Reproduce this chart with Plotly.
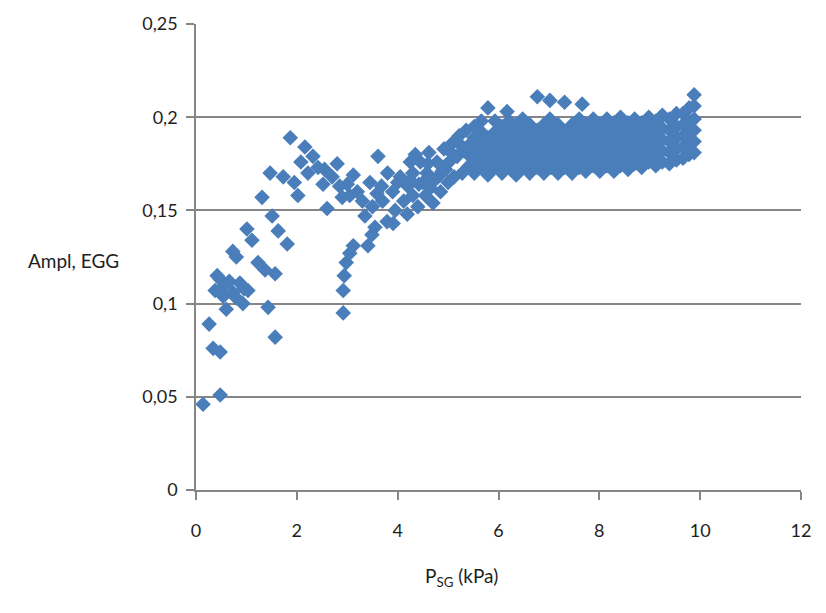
import plotly.graph_objects as go

# ---- data ----
low_x = [0.14, 0.48, 0.26, 0.34, 0.48, 0.38, 0.42, 0.48, 0.54, 0.57, 0.60, 0.66, 0.73, 0.80,
         0.87, 0.93, 0.95, 1.03, 0.73, 0.80, 1.01, 1.11, 1.23, 1.37, 1.57, 1.43, 1.57, 1.31,
         1.51, 1.63, 1.81, 1.47, 1.73, 1.87, 2.02, 1.95]
low_y = [0.046, 0.051, 0.089, 0.076, 0.074, 0.107, 0.115, 0.113, 0.104, 0.110, 0.097, 0.112,
         0.106, 0.103, 0.111, 0.100, 0.108, 0.107, 0.128, 0.125, 0.140, 0.134, 0.122, 0.118,
         0.116, 0.098, 0.082, 0.157, 0.147, 0.139, 0.132, 0.170, 0.168, 0.189, 0.158, 0.165]

mid_x = [2.16, 2.32, 2.42, 2.22, 2.52, 2.60, 2.80, 2.70, 3.00, 3.12, 2.90, 3.30, 3.20, 3.61,
         3.59, 3.45, 3.80, 3.79, 4.00, 3.90, 3.70, 2.92, 2.92, 2.94, 2.98, 3.05, 3.12, 3.35,
         3.41, 3.49, 3.55, 3.91, 4.19, 4.25, 2.08, 2.55, 2.85, 3.05, 3.50, 3.68, 3.95]
mid_y = [0.184, 0.179, 0.173, 0.170, 0.164, 0.151, 0.175, 0.168, 0.164, 0.169, 0.157, 0.155,
         0.160, 0.179, 0.159, 0.165, 0.170, 0.144, 0.165, 0.160, 0.155, 0.095, 0.107, 0.115,
         0.122, 0.127, 0.131, 0.147, 0.131, 0.137, 0.141, 0.143, 0.148, 0.176, 0.176, 0.172,
         0.163, 0.158, 0.152, 0.163, 0.150]

rise_x = [4.30, 4.30, 4.40, 4.42, 4.45, 4.55, 4.58, 4.62, 4.70, 4.72, 4.78, 4.85, 4.88, 4.92,
          5.00, 5.02, 5.08, 5.12, 5.18, 5.22, 5.28, 5.32, 5.36, 5.42, 5.45, 4.20, 4.12, 4.05,
          4.35, 4.50, 4.65, 4.80, 4.95, 5.10, 5.25, 5.40, 4.25, 4.60]
rise_y = [0.158, 0.170, 0.152, 0.164, 0.176, 0.158, 0.170, 0.181, 0.154, 0.166, 0.176, 0.160,
          0.171, 0.183, 0.165, 0.176, 0.186, 0.168, 0.179, 0.190, 0.170, 0.182, 0.193, 0.174,
          0.186, 0.163, 0.155, 0.168, 0.180, 0.165, 0.162, 0.168, 0.172, 0.180, 0.185, 0.180,
          0.166, 0.175]

band_x = [5.52, 5.66, 5.79, 5.93, 6.07, 6.17, 6.21, 6.35, 6.48, 6.62, 6.77, 6.90, 7.02, 7.04,
          7.18, 7.31, 7.46, 7.60, 7.66, 7.73, 7.88, 8.01, 8.15, 8.29, 8.42, 8.57, 8.70, 8.84,
          8.98, 9.12, 9.25, 9.39, 9.53, 9.66, 9.78, 9.88]
band_y = [
    [0.170, 0.177, 0.183, 0.189, 0.195],
    [0.173, 0.180, 0.186, 0.192, 0.198],
    [0.169, 0.176, 0.183, 0.189, 0.205],
    [0.173, 0.179, 0.186, 0.192, 0.198],
    [0.170, 0.176, 0.183, 0.189, 0.195],
    [0.203],
    [0.173, 0.180, 0.186, 0.192, 0.198],
    [0.169, 0.176, 0.183, 0.189, 0.196],
    [0.173, 0.179, 0.186, 0.192, 0.199],
    [0.170, 0.177, 0.183, 0.189, 0.196],
    [0.173, 0.180, 0.186, 0.193, 0.211],
    [0.170, 0.176, 0.183, 0.190, 0.196],
    [0.209, 0.199],
    [0.173, 0.179, 0.186, 0.192],
    [0.170, 0.177, 0.183, 0.189, 0.196],
    [0.173, 0.180, 0.186, 0.192, 0.208],
    [0.170, 0.176, 0.183, 0.190, 0.196],
    [0.173, 0.180, 0.186, 0.193, 0.199],
    [0.207],
    [0.171, 0.177, 0.183, 0.190, 0.196],
    [0.174, 0.180, 0.186, 0.193, 0.199],
    [0.171, 0.177, 0.184, 0.190, 0.196],
    [0.174, 0.180, 0.187, 0.193, 0.199],
    [0.171, 0.177, 0.184, 0.190, 0.197],
    [0.174, 0.180, 0.187, 0.193, 0.200],
    [0.172, 0.178, 0.184, 0.190, 0.197],
    [0.175, 0.181, 0.187, 0.193, 0.199],
    [0.173, 0.179, 0.185, 0.191, 0.197],
    [0.176, 0.182, 0.188, 0.194, 0.200],
    [0.174, 0.180, 0.186, 0.192, 0.198],
    [0.176, 0.182, 0.188, 0.194, 0.201],
    [0.175, 0.181, 0.187, 0.193, 0.199],
    [0.177, 0.183, 0.189, 0.195, 0.202],
    [0.178, 0.184, 0.190, 0.196, 0.202],
    [0.180, 0.186, 0.192, 0.198, 0.205],
    [0.181, 0.187, 0.193, 0.199, 0.206, 0.212],
]

x_ticks = [0, 2, 4, 6, 8, 10, 12]
y_ticks = [0, 0.05, 0.1, 0.15, 0.2, 0.25]

# ---- assemble ----
xs = low_x + mid_x + rise_x
ys = low_y + mid_y + rise_y
for bx, col in zip(band_x, band_y):
    for v in col:
        xs.append(bx)
        ys.append(v)

FONT = "Lato"
GRID = "#868686"
TXT = "#1e1e1e"

fig = go.Figure()
fig.add_trace(go.Scatter(
    x=xs, y=ys, mode="markers",
    marker=dict(symbol="diamond", size=12, color="#4A7EBB", line=dict(width=0)),
    showlegend=False, cliponaxis=False,
))

fig.update_layout(
    width=826, height=613,
    margin=dict(l=196, r=25, t=18, b=123),
    paper_bgcolor="white", plot_bgcolor="white",
    separators=",.",
    font=dict(family=FONT, size=18, color=TXT),
    xaxis=dict(
        range=[0, 12], tickvals=x_ticks, showgrid=False, zeroline=False,
        showline=True, linecolor=GRID, linewidth=1.5,
        ticks="outside", ticklen=8, tickcolor=GRID, tickwidth=1.5,
        ticklabelstandoff=16,
        tickfont=dict(family=FONT, size=18, color=TXT),
    ),
    yaxis=dict(
        range=[0, 0.25], tickvals=y_ticks, showgrid=True, gridcolor=GRID, gridwidth=1.5,
        zeroline=False, showline=True, linecolor=GRID, linewidth=1.5,
        ticks="outside", ticklen=8, tickcolor=GRID, tickwidth=1.5,
        ticklabelstandoff=5,
        tickfont=dict(family=FONT, size=18, color=TXT),
    ),
    annotations=[
        dict(text="Ampl, EGG", xref="paper", yref="paper",
             x=(73 - 196) / 605, y=(490 - 258) / 472, xanchor="center", yanchor="middle",
             showarrow=False, font=dict(family=FONT, size=19, color=TXT)),
        dict(text="P<sub>SG</sub> (kPa)", xref="paper", yref="paper",
             x=(461 - 196) / 605, y=-(578 - 490) / 472, xanchor="center", yanchor="middle",
             showarrow=False, font=dict(family=FONT, size=19, color=TXT)),
    ],
)

fig.write_html("out.html")
